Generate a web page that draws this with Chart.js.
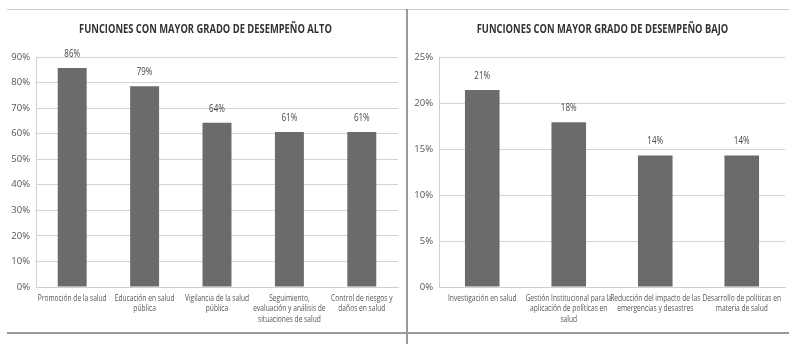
<!DOCTYPE html>
<html>
<head>
<meta charset="utf-8">
<script src="https://cdn.jsdelivr.net/npm/chart.js@4"></script>
<style>
    body { margin: 0; background: #fff; }
    #wrap { position: relative; width: 789px; height: 344px; overflow: hidden; }
    .line-top { position: absolute; left: 7px; top: 9px; width: 782px; height: 1px; background: #c8c8c8; }
    .line-bottom { position: absolute; left: 7px; top: 332px; width: 782px; height: 2px; background: #9a9a9a; }
    .divider { position: absolute; left: 406px; top: 9px; width: 2px; height: 335px; background: #9a9a9a; }
    #left-box { position: absolute; left: 0; top: 0; width: 403px; height: 332px; }
    #right-box { position: absolute; left: 408px; top: 0; width: 381px; height: 332px; }
</style>
</head>
<body>
<div id="wrap">
    <div class="line-top"></div>
    <div id="left-box"><canvas id="alto-canvas"></canvas></div>
    <div id="right-box"><canvas id="bajo-canvas"></canvas></div>
    <div class="line-bottom"></div>
    <div class="divider"></div>
</div>
<script>
const altoLabels = [
    ["Promoción de la salud"],
    ["Educación en salud", "pública"],
    ["Vigilancia de la salud", "pública"],
    ["Seguimiento,", "evaluación y análisis de", "situaciones de salud"],
    ["Control de riesgos y", "daños en salud"]
];
const altoValues = [85.7, 78.6, 64.3, 60.7, 60.7];
const altoTicks = [0, 10, 20, 30, 40, 50, 60, 70, 80, 90];

const bajoLabels = [
    ["Investigación en salud"],
    ["Gestión Institucional para la", "aplicación de políticas en", "salud"],
    ["Reducción del impacto de las", "emergencias y desastres"],
    ["Desarrollo de políticas en", "materia de salud"]
];
const bajoValues = [21.4, 17.9, 14.3, 14.3];
const bajoTicks = [0, 5, 10, 15, 20, 25];

const FONT = "'Open Sans', sans-serif";

// texto "estrecho" (no hay fuente condensada instalada)
function narrowText(ctx, text, x, y, sx) {
    ctx.save();
    ctx.translate(x, y);
    ctx.scale(sx, 1);
    ctx.fillText(text, 0, 0);
    ctx.restore();
}

// título, etiquetas de categoría y porcentajes sobre las barras
const extraText = {
    id: 'extraText',
    afterDatasetsDraw(chart, args, opts) {
        const ctx = chart.ctx;
        const xScale = chart.scales.x;
        const meta = chart.getDatasetMeta(0);
        ctx.save();
        ctx.textAlign = 'center';
        ctx.textBaseline = 'middle';

        ctx.font = 'bold 12px ' + FONT;
        ctx.fillStyle = '#333';
        narrowText(ctx, opts.title, chart.width / 2 + 4, 30, 0.78);

        ctx.font = '10px ' + FONT;
        ctx.fillStyle = '#444';
        meta.data.forEach((bar, i) => {
            const v = chart.data.datasets[0].data[i];
            narrowText(ctx, Math.round(v) + '%', bar.x, bar.y - 14, 0.8);
        });

        ctx.font = '9px ' + FONT;
        ctx.fillStyle = '#555';
        opts.labels.forEach((lines, i) => {
            const x = xScale.getPixelForTick(i);
            lines.forEach((line, j) => {
                narrowText(ctx, line, x, chart.chartArea.bottom + 11 + j * 10.7, 0.74);
            });
        });
        ctx.restore();
    }
};

function makeChart(id, title, labels, values, ticks, axisWidth, rightPad) {
    new Chart(document.getElementById(id), {
        type: 'bar',
        data: {
            labels: labels.map(l => l.join(' ')),
            datasets: [{
                data: values,
                backgroundColor: '#6b6b6b',
                borderWidth: 0,
                categoryPercentage: 1,
                barPercentage: 0.4
            }]
        },
        options: {
            responsive: true,
            maintainAspectRatio: false,
            animation: false,
            layout: { padding: { left: 0, right: rightPad, top: 57, bottom: 45 } },
            scales: {
                y: {
                    min: ticks[0],
                    max: ticks[ticks.length - 1],
                    afterBuildTicks: (scale) => { scale.ticks = ticks.map(v => ({ value: v })); },
                    afterFit: (scale) => { scale.width = axisWidth; },
                    grid: { color: '#d3d3d3', drawTicks: false },
                    border: { color: '#cfcfcf' },
                    ticks: {
                        padding: 6,
                        color: '#555',
                        font: { family: FONT, size: 9.5 },
                        callback: (v) => v + '%'
                    }
                },
                x: {
                    grid: { display: false, drawTicks: false },
                    border: { color: '#cfcfcf' },
                    ticks: { display: false }
                }
            },
            plugins: {
                legend: { display: false },
                tooltip: { enabled: false },
                title: { display: false },
                extraText: { title: title, labels: labels }
            }
        },
        plugins: [extraText]
    });
}

makeChart('alto-canvas', 'FUNCIONES CON MAYOR GRADO DE DESEMPEÑO ALTO',
    altoLabels, altoValues, altoTicks, 36, 5);
makeChart('bajo-canvas', 'FUNCIONES CON MAYOR GRADO DE DESEMPEÑO BAJO',
    bajoLabels, bajoValues, bajoTicks, 31, 4);
</script>
</body>
</html>
